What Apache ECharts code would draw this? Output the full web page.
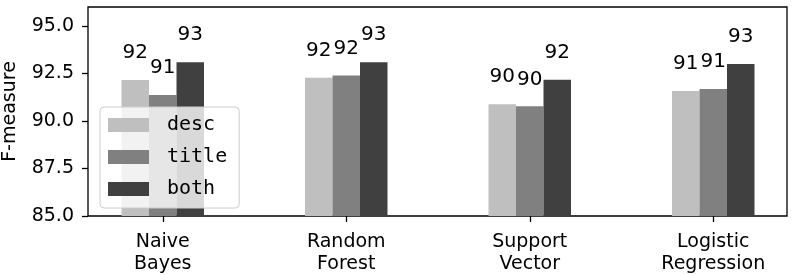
<!DOCTYPE html>
<html>
<head>
<meta charset="utf-8">
<script src="https://cdn.jsdelivr.net/npm/echarts@6/dist/echarts.min.js"></script>
<style>
  html, body { margin: 0; padding: 0; background: #fff; }
  #chart { width: 795px; height: 275px; }
</style>
</head>
<body>
<div id="chart"></div>
<script>
// categories and F-measure per feature set
var categories = ["Naive\nBayes", "Random\nForest", "Support\nVector", "Logistic\nRegression"];
var descValues = [92.16, 92.28, 90.88, 91.58];
var titleValues = [91.37, 92.39, 90.77, 91.68];
var bothValues = [93.09, 93.09, 92.17, 93.0];
var yTicks = [85, 87.5, 90, 92.5, 95];

var FONT = "DejaVu Sans";
var MONO = "DejaVu Sans Mono";

function barSeries(name, data, color) {
  return {
    name: name,
    type: "bar",
    xAxisIndex: 1,
    yAxisIndex: 1,
    data: data,
    barWidth: 27.5,
    barGap: "0%",
    itemStyle: { color: color },
    label: {
      show: true,
      position: "top",
      distance: 17,
      fontFamily: FONT,
      fontSize: 20,
      color: "#000",
      formatter: function (p) { return Math.floor(p.value + 1e-9); } // labels are truncated
    }
  };
}

var myChart = echarts.init(document.getElementById("chart"));
myChart.setOption({
  animation: false,
  grid: [
    // frame + y axis
    { left: 88, top: 7, width: 699, height: 209, outerBoundsMode: "none", show: true, borderColor: "#000", borderWidth: 1.3, backgroundColor: "transparent" },
    // bars (category bands are wider than the frame, like matplotlib's margins)
    { left: 71, top: 7, width: 734, height: 209, outerBoundsMode: "none" }
  ],
  legend: {
    orient: "vertical",
    left: 100,
    top: 107,
    icon: "rect",
    itemWidth: 41,
    itemHeight: 14,
    itemGap: 12,
    padding: [8, 12, 9, 8],
    backgroundColor: "rgba(255,255,255,0.8)",
    borderColor: "#cccccc",
    borderWidth: 1,
    borderRadius: 4,
    z: 10,
    textStyle: { fontFamily: MONO, fontSize: 20, color: "#000", padding: [0, 0, 0, 13] },
    data: ["desc", "title", "both"]
  },
  xAxis: [
    { type: "value", gridIndex: 0, min: 0, max: 1, show: false },
    {
      type: "category",
      gridIndex: 1,
      data: categories,
      axisLine: { show: false },
      axisTick: { show: true, alignWithLabel: true, length: 6, lineStyle: { color: "#000", width: 1.3 } },
      axisLabel: { color: "#000", fontFamily: FONT, fontSize: 19, lineHeight: 22, margin: 15, interval: 0 }
    }
  ],
  yAxis: [
    {
      type: "value",
      gridIndex: 0,
      min: 85,
      max: 96,
      name: "F-measure",
      nameLocation: "middle",
      nameGap: 68,
      nameTextStyle: { color: "#000", fontFamily: FONT, fontSize: 19 },
      axisLine: { show: false },
      splitLine: { show: false },
      axisTick: { show: true, length: 6, customValues: yTicks, lineStyle: { color: "#000", width: 1.3 } },
      axisLabel: {
        color: "#000",
        fontFamily: FONT,
        fontSize: 19,
        margin: 14,
        customValues: yTicks,
        formatter: function (v) { return v.toFixed(1); }
      }
    },
    { type: "value", gridIndex: 1, min: 85, max: 96, show: false }
  ],
  series: [
    barSeries("desc", descValues, "#bfbfbf"),
    barSeries("title", titleValues, "#808080"),
    barSeries("both", bothValues, "#404040")
  ]
});
</script>
</body>
</html>
